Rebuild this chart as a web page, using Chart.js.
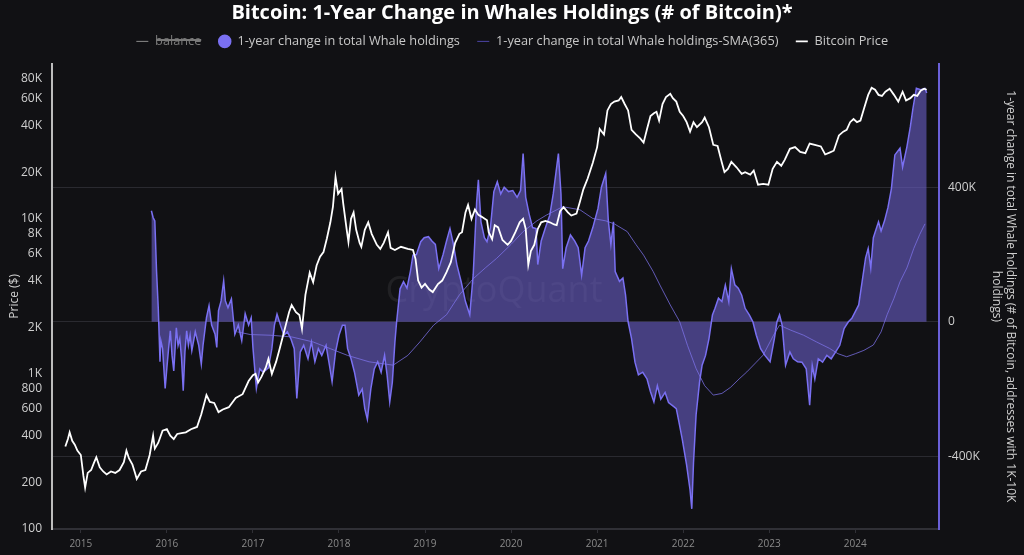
<!DOCTYPE html>
<html>
<head>
<meta charset="utf-8">
<title>Bitcoin: 1-Year Change in Whales Holdings</title>
<script src="https://cdn.jsdelivr.net/npm/chart.js@4.4.1/dist/chart.umd.min.js"></script>
<style>
  html, body { margin: 0; padding: 0; background: #111114; }
  #wrap { width: 1024px; height: 555px; position: relative; }
</style>
</head>
<body>
<div id="wrap"><canvas id="myChart"></canvas></div>
<script>
// Values (x = decimal year)

const yearTicks = [2015, 2016, 2017, 2018, 2019, 2020, 2021, 2022, 2023, 2024]
const priceTicks = [100, 200, 400, 600, 800, 1000, 2000, 4000, 6000, 8000, 10000, 20000, 40000, 60000, 80000]
const whaleTicks = [-400000, 0, 400000]

// Bitcoin price ($)
const priceDates = [
    2014.82, 2014.85, 2014.87, 2014.90, 2014.93, 2014.96, 2015.00, 2015.03, 2015.05, 2015.08,
    2015.12, 2015.15, 2015.18, 2015.22, 2015.26, 2015.30, 2015.35, 2015.40, 2015.45, 2015.50,
    2015.53, 2015.56, 2015.60, 2015.63, 2015.65, 2015.70, 2015.75, 2015.80, 2015.84, 2015.86,
    2015.90, 2015.95, 2016.00, 2016.04, 2016.08, 2016.12, 2016.17, 2016.22, 2016.28, 2016.35,
    2016.40, 2016.46, 2016.50, 2016.55, 2016.60, 2016.65, 2016.72, 2016.80, 2016.88, 2016.95,
    2017.00, 2017.03, 2017.06, 2017.10, 2017.15, 2017.18, 2017.22, 2017.27, 2017.31, 2017.37,
    2017.42, 2017.45, 2017.50, 2017.54, 2017.57, 2017.61, 2017.66, 2017.70, 2017.74, 2017.78,
    2017.82, 2017.86, 2017.90, 2017.93, 2017.96, 2017.99, 2018.03, 2018.05, 2018.09, 2018.11,
    2018.14, 2018.17, 2018.20, 2018.24, 2018.26, 2018.30, 2018.34, 2018.38, 2018.44, 2018.48,
    2018.52, 2018.57, 2018.60, 2018.65, 2018.72, 2018.80, 2018.86, 2018.89, 2018.92, 2018.96,
    2019.00, 2019.05, 2019.09, 2019.15, 2019.20, 2019.25, 2019.30, 2019.35, 2019.40, 2019.43,
    2019.47, 2019.50, 2019.54, 2019.58, 2019.62, 2019.66, 2019.72, 2019.74, 2019.78, 2019.81,
    2019.85, 2019.90, 2019.96, 2020.00, 2020.05, 2020.10, 2020.14, 2020.17, 2020.20, 2020.23,
    2020.27, 2020.31, 2020.35, 2020.40, 2020.45, 2020.50, 2020.53, 2020.57, 2020.61, 2020.66,
    2020.70, 2020.76, 2020.80, 2020.84, 2020.89, 2020.95, 2021.00, 2021.03, 2021.08, 2021.12,
    2021.16, 2021.20, 2021.25, 2021.28, 2021.32, 2021.36, 2021.40, 2021.45, 2021.50, 2021.54,
    2021.58, 2021.62, 2021.66, 2021.69, 2021.72, 2021.76, 2021.80, 2021.85, 2021.88, 2021.92,
    2021.96, 2022.00, 2022.04, 2022.08, 2022.12, 2022.16, 2022.22, 2022.25, 2022.30, 2022.35,
    2022.40, 2022.45, 2022.48, 2022.52, 2022.56, 2022.62, 2022.68, 2022.72, 2022.78, 2022.82,
    2022.87, 2022.93, 2022.99, 2023.04, 2023.09, 2023.14, 2023.18, 2023.24, 2023.30, 2023.36,
    2023.42, 2023.47, 2023.53, 2023.60, 2023.65, 2023.70, 2023.75, 2023.81, 2023.86, 2023.90,
    2023.94, 2023.98, 2024.02, 2024.06, 2024.10, 2024.15, 2024.19, 2024.23, 2024.27, 2024.31,
    2024.35, 2024.40, 2024.45, 2024.50, 2024.55, 2024.59, 2024.64, 2024.68, 2024.72, 2024.76,
    2024.80, 2024.83
]
const priceValues = [
    340, 380, 420, 370, 350, 320, 300, 220, 185, 230,
    240, 265, 290, 250, 235, 225, 235, 230, 240, 270,
    320, 285, 260, 230, 210, 235, 240, 300, 400, 330,
    360, 430, 440, 400, 380, 410, 415, 420, 440, 455,
    550, 730, 660, 650, 567, 590, 610, 700, 740, 900,
    980, 1000, 880, 960, 1100, 1250, 1000, 1200, 1450, 1950,
    2500, 2780, 2500, 2400, 1950, 3230, 4500, 3900, 5000, 5700,
    6100, 7500, 9500, 12000, 18600, 14500, 15600, 12500, 8500, 7100,
    10000, 11000, 8500, 7000, 6600, 8500, 9500, 8000, 6800, 6400,
    7000, 8200, 6500, 6300, 6600, 6400, 6300, 5500, 4000, 3600,
    3800, 3500, 3370, 3800, 4000, 4530, 5260, 7000, 8000, 8200,
    11000, 12300, 10000, 11500, 10600, 10300, 9800, 8200, 7400, 9100,
    8800, 7300, 6800, 7200, 8200, 9500, 10000, 8600, 5050, 6200,
    6800, 8600, 9500, 9700, 9500, 9200, 9100, 11200, 11900, 11000,
    10500, 10800, 12900, 15500, 18200, 23000, 29000, 38000, 35000, 50000,
    55000, 57000, 58000, 61000, 55000, 50000, 37500, 35000, 33000, 31000,
    38000, 46000, 48000, 49000, 43000, 55000, 61000, 64000, 60000, 57000,
    49000, 46000, 42000, 36500, 42000, 39000, 42000, 45000, 39000, 30000,
    29500, 23000, 20000, 21000, 23300, 21500, 19500, 20000, 19300, 20500,
    16600, 16800, 16600, 21000, 23300, 22000, 24000, 28300, 29000, 27000,
    26500, 30600, 30000, 29300, 26000, 26700, 27500, 34500, 36500, 37500,
    42000, 44000, 42000, 43000, 51000, 63000, 70000, 68000, 63000, 62000,
    66000, 69000, 63000, 57000, 66000, 58000, 60000, 63000, 62000, 67000,
    69000, 68000
]

// 1-year change in total Whale holdings (BTC)
const whaleDates = [
    2015.82, 2015.84, 2015.86, 2015.88, 2015.90, 2015.92, 2015.93, 2015.95, 2015.98, 2016.00,
    2016.02, 2016.04, 2016.06, 2016.08, 2016.10, 2016.11, 2016.13, 2016.15, 2016.17, 2016.19,
    2016.21, 2016.23, 2016.25, 2016.27, 2016.29, 2016.33, 2016.37, 2016.40, 2016.42, 2016.46,
    2016.49, 2016.52, 2016.56, 2016.58, 2016.60, 2016.63, 2016.66, 2016.68, 2016.71, 2016.75,
    2016.77, 2016.79, 2016.83, 2016.87, 2016.91, 2016.95, 2016.98, 2017.00, 2017.04, 2017.08,
    2017.12, 2017.18, 2017.22, 2017.25, 2017.28, 2017.32, 2017.36, 2017.40, 2017.44, 2017.48,
    2017.51, 2017.55, 2017.59, 2017.64, 2017.68, 2017.72, 2017.76, 2017.80, 2017.85, 2017.89,
    2017.92, 2017.96, 2018.00, 2018.04, 2018.07, 2018.10, 2018.14, 2018.18, 2018.23, 2018.27,
    2018.30, 2018.33, 2018.37, 2018.41, 2018.45, 2018.49, 2018.53, 2018.56, 2018.59, 2018.62,
    2018.65, 2018.67, 2018.71, 2018.75, 2018.79, 2018.83, 2018.86, 2018.90, 2018.95, 2018.99,
    2019.04, 2019.08, 2019.12, 2019.16, 2019.21, 2019.25, 2019.29, 2019.33, 2019.37, 2019.42,
    2019.47, 2019.52, 2019.56, 2019.60, 2019.62, 2019.65, 2019.69, 2019.72, 2019.76, 2019.80,
    2019.84, 2019.88, 2019.92, 2019.97, 2020.02, 2020.07, 2020.11, 2020.14, 2020.17, 2020.21,
    2020.25, 2020.29, 2020.31, 2020.35, 2020.40, 2020.45, 2020.49, 2020.55, 2020.58, 2020.60,
    2020.64, 2020.69, 2020.74, 2020.78, 2020.82, 2020.86, 2020.90, 2020.95, 2021.01, 2021.05,
    2021.10, 2021.13, 2021.16, 2021.19, 2021.21, 2021.26, 2021.30, 2021.33, 2021.36, 2021.40,
    2021.44, 2021.48, 2021.53, 2021.58, 2021.62, 2021.66, 2021.70, 2021.74, 2021.79, 2021.83,
    2021.88, 2021.92, 2021.95, 2021.99, 2022.04, 2022.08, 2022.10, 2022.12, 2022.15, 2022.19,
    2022.22, 2022.26, 2022.30, 2022.34, 2022.37, 2022.41, 2022.45, 2022.49, 2022.53, 2022.56,
    2022.60, 2022.64, 2022.68, 2022.72, 2022.77, 2022.81, 2022.85, 2022.90, 2022.95, 2023.01,
    2023.06, 2023.09, 2023.12, 2023.15, 2023.19, 2023.24, 2023.28, 2023.33, 2023.38, 2023.43,
    2023.47, 2023.50, 2023.53, 2023.57, 2023.62, 2023.67, 2023.72, 2023.77, 2023.82, 2023.87,
    2023.92, 2023.96, 2024.00, 2024.04, 2024.08, 2024.12, 2024.15, 2024.18, 2024.21, 2024.27,
    2024.30, 2024.34, 2024.38, 2024.42, 2024.46, 2024.52, 2024.55, 2024.60, 2024.64, 2024.67,
    2024.71, 2024.76, 2024.81, 2024.83
]
const whaleValues = [
    330000, 310000, 300000, 150000, 40000, -119000, -56000, -80000, -198000, -137000,
    -80000, -27000, -100000, -146000, -60000, -18000, -70000, -50000, -107000, -205000,
    -90000, -27000, -70000, -40000, -86000, -30000, -70000, -126000, -70000, 12000,
    48000, -10000, -37000, -76000, 33000, 62000, 122000, 62000, 42000, 68000,
    15000, -37000, -10000, -56000, 24000, -10000, 12000, -76000, -198000, -140000,
    -150000, -137000, -80000, -10000, 23000, -10000, -40000, -30000, -50000, -80000,
    -228000, -90000, -70000, -110000, -60000, -119000, -80000, -100000, -70000, -130000,
    -178000, -90000, -40000, -10000, -10000, -80000, -110000, -150000, -218000, -200000,
    -258000, -290000, -200000, -140000, -119000, -150000, -100000, -160000, -238000, -180000,
    -60000, 0, 98000, 119000, 100000, 150000, 198000, 200000, 238000, 250000,
    253000, 240000, 230000, 158000, 200000, 240000, 277000, 230000, 170000, 119000,
    60000, 21000, 140000, 357000, 422000, 297000, 250000, 238000, 280000, 387000,
    416000, 380000, 400000, 387000, 390000, 370000, 390000, 500000, 370000, 320000,
    280000, 277000, 170000, 240000, 280000, 317000, 380000, 500000, 380000, 158000,
    220000, 258000, 240000, 220000, 139000, 220000, 240000, 280000, 337000, 400000,
    441000, 300000, 230000, 297000, 149000, 120000, 130000, 80000, 0, -50000,
    -120000, -158000, -150000, -170000, -208000, -238000, -190000, -230000, -210000, -240000,
    -250000, -258000, -297000, -350000, -426000, -500000, -556000, -420000, -277000, -180000,
    -129000, -100000, -50000, 20000, 40000, 70000, 60000, 109000, 60000, 158000,
    110000, 100000, 79000, 40000, 20000, 0, -40000, -80000, -100000, -119000,
    -50000, 0, 21000, -10000, -129000, -90000, -110000, -119000, -120000, -140000,
    -248000, -130000, -170000, -110000, -120000, -100000, -110000, -90000, -70000, -20000,
    0, 10000, 30000, 50000, 120000, 190000, 218000, 160000, 250000, 297000,
    270000, 300000, 340000, 396000, 496000, 516000, 460000, 520000, 580000, 634000,
    694000, 690000, 694000, 680000
]

// SMA(365) of the whale series
const smaDates = [
    2016.82, 2016.97, 2017.20, 2017.45, 2017.70, 2017.90, 2018.10, 2018.35, 2018.63, 2018.80,
    2018.94, 2019.10, 2019.25, 2019.40, 2019.56, 2019.70, 2019.83, 2020.00, 2020.14, 2020.30,
    2020.41, 2020.60, 2020.80, 2020.95, 2021.10, 2021.20, 2021.35, 2021.45, 2021.54, 2021.65,
    2021.73, 2021.85, 2021.96, 2022.05, 2022.15, 2022.25, 2022.35, 2022.45, 2022.55, 2022.65,
    2022.74, 2022.85, 2022.93, 2023.05, 2023.12, 2023.25, 2023.40, 2023.55, 2023.70, 2023.80,
    2023.90, 2024.00, 2024.10, 2024.21, 2024.30, 2024.37, 2024.45, 2024.52, 2024.60, 2024.68,
    2024.75, 2024.81
]
const smaValues = [
    -30000, -38000, -40000, -45000, -60000, -80000, -100000, -119000, -129000, -100000,
    -60000, -10000, 21000, 80000, 128000, 160000, 188000, 230000, 268000, 300000,
    317000, 342000, 333000, 307000, 300000, 291000, 268000, 230000, 198000, 150000,
    109000, 50000, 0, -70000, -139000, -190000, -218000, -213000, -195000, -170000,
    -149000, -120000, -99000, -40000, -10000, -25000, -40000, -60000, -79000, -95000,
    -104000, -95000, -85000, -69000, -30000, 21000, 70000, 119000, 160000, 218000,
    260000, 291000
]

function toPoints(xs, ys) {
    return xs.map((x, i) => ({ x: x, y: ys[i] }))
}

function kLabel(v) {
    if (v === 0) return '0'
    return v >= 1000 || v <= -1000 ? (v / 1000) + 'K' : String(v)
}

// faint watermark behind the marks
const watermark = {
    id: 'watermark',
    beforeDatasetsDraw(chart) {
        const ctx = chart.ctx
        ctx.save()
        ctx.font = '36px "Open Sans", sans-serif'
        ctx.fillStyle = 'rgba(255,255,255,0.07)'
        ctx.textAlign = 'center'
        ctx.textBaseline = 'middle'
        ctx.fillText('CryptoQuant', 494, 292)
        ctx.restore()
    }
}

// leave a bit more room under the legend row
const legendGap = {
    id: 'legendGap',
    beforeLayout(chart) {
        const lg = chart.legend
        if (lg && !lg._gapPatched) {
            const fit = lg.fit.bind(lg)
            lg.fit = function () { fit(); this.height += 6 }
            lg._gapPatched = true
        }
    }
}

function drawChart() {
    const ctx = document.getElementById('myChart').getContext('2d')
    const baseLabels = Chart.defaults.plugins.legend.labels.generateLabels

    new Chart(ctx, {
        type: 'line',
        data: {
            datasets: [{
                label: 'balance',
                data: [],
                hidden: true,
                borderColor: '#8a8a8a',
                backgroundColor: '#8a8a8a',
                pointStyle: 'line',
                yAxisID: 'y1',
                order: 4
            }, {
                label: '1-year change in total Whale holdings',
                data: toPoints(whaleDates, whaleValues),
                borderColor: '#7a70f2',
                backgroundColor: 'rgba(107, 95, 200, 0.6)',
                fill: 'origin',
                borderWidth: 1.5,
                pointRadius: 0,
                pointStyle: 'circle',
                yAxisID: 'y1',
                order: 3
            }, {
                label: '1-year change in total Whale holdings-SMA(365)',
                data: toPoints(smaDates, smaValues),
                borderColor: 'rgba(125, 115, 235, 0.75)',
                borderWidth: 1,
                pointRadius: 0,
                pointStyle: 'line',
                yAxisID: 'y1',
                order: 2
            }, {
                label: 'Bitcoin Price',
                data: toPoints(priceDates, priceValues),
                borderColor: '#ffffff',
                borderWidth: 1.8,
                pointRadius: 0,
                pointStyle: 'line',
                yAxisID: 'y',
                order: 1
            }]
        },
        options: {
            responsive: true,
            maintainAspectRatio: false,
            animation: false,
            layout: { padding: { left: 0, right: 0, top: 0, bottom: 0 } },
            plugins: {
                title: {
                    display: true,
                    text: 'Bitcoin: 1-Year Change in Whales Holdings (# of Bitcoin)*',
                    color: '#ffffff',
                    font: { family: '"Open Sans", sans-serif', size: 20, weight: 'bold' },
                    padding: { top: 1, bottom: -7 }
                },
                legend: {
                    labels: {
                        usePointStyle: true,
                        boxHeight: 8.5,
                        color: '#c8c8c8',
                        padding: 17,
                        font: { family: '"Open Sans", sans-serif', size: 12.75 },
                        sort: (a, b) => a.datasetIndex - b.datasetIndex,
                        generateLabels: (chart) => baseLabels(chart).map(item => {
                            if (item.datasetIndex === 1) {
                                item.fillStyle = '#7a70f2'
                                item.strokeStyle = '#7a70f2'
                            }
                            if (item.datasetIndex === 2) item.strokeStyle = '#4d45a8'
                            if (item.hidden) item.fontColor = '#7a7a7a'
                            return item
                        })
                    }
                },
                tooltip: { enabled: false }
            },
            scales: {
                x: {
                    type: 'linear',
                    min: 2014.665,
                    max: 2024.973,
                    afterBuildTicks: scale => { scale.ticks = yearTicks.map(v => ({ value: v })) },
                    ticks: {
                        color: '#8a8a8a',
                        font: { family: '"Open Sans", sans-serif', size: 10 },
                        padding: 5,
                        maxRotation: 0,
                        callback: v => String(v)
                    },
                    grid: { drawOnChartArea: false, drawTicks: true, tickLength: 4, color: '#303036' },
                    border: { color: '#303036', width: 2 }
                },
                y: {
                    type: 'logarithmic',
                    position: 'left',
                    min: 100,
                    max: 100000,
                    afterBuildTicks: scale => { scale.ticks = priceTicks.map(v => ({ value: v })) },
                    afterFit: scale => { scale.width = 52 },
                    ticks: {
                        color: '#cfcfcf',
                        font: { family: '"Open Sans", sans-serif', size: 12 },
                        padding: 10,
                        callback: v => kLabel(v)
                    },
                    grid: { display: false, drawTicks: false },
                    border: { display: true, color: '#bdbdbd', width: 2 },
                    title: {
                        display: true,
                        text: 'Price ($)',
                        color: '#cfcfcf',
                        font: { family: '"Open Sans", sans-serif', size: 12 },
                        padding: { top: 7, bottom: 0 }
                    }
                },
                y1: {
                    type: 'linear',
                    position: 'right',
                    min: -616000,
                    max: 767000,
                    afterBuildTicks: scale => { scale.ticks = whaleTicks.map(v => ({ value: v })) },
                    afterFit: scale => { scale.width = 85 },
                    ticks: {
                        color: '#cfcfcf',
                        font: { family: '"Open Sans", sans-serif', size: 12 },
                        padding: 9,
                        callback: v => kLabel(v)
                    },
                    grid: { color: '#2a2a30', lineWidth: 1, drawTicks: false },
                    border: { display: true, color: '#6a60d8', width: 2 },
                    title: {
                        display: true,
                        text: ['1-year change in total Whale holdings (# of Bitcoin, addresses with 1K-10K', 'holdings)'],
                        color: '#cfcfcf',
                        font: { family: '"Open Sans", sans-serif', size: 12 },
                        padding: { top: 6, bottom: 0 }
                    }
                }
            }
        },
        plugins: [watermark, legendGap]
    })
}

window.onload = () => {
    drawChart()
}
</script>
</body>
</html>
